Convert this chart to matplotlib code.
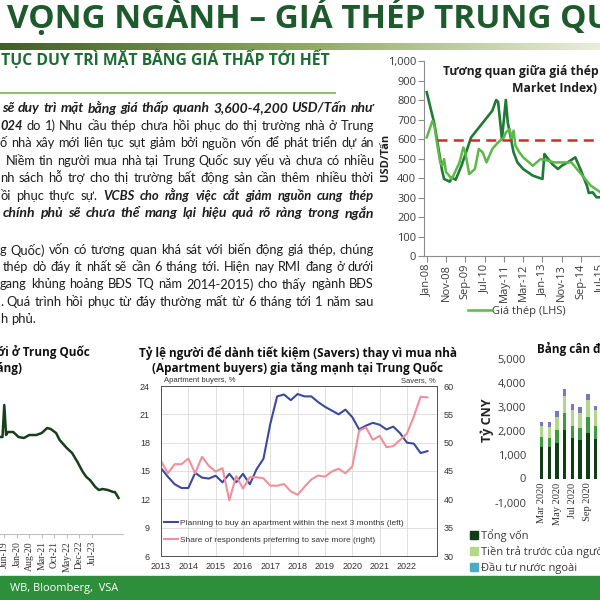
import matplotlib
matplotlib.use('Agg')
import matplotlib.pyplot as plt
from matplotlib.patches import Rectangle, Patch
from matplotlib.lines import Line2D
import numpy as np

# ---- data -------------------------------------------------------------
# top right: steel price vs RMI, x = months since Jan-08
rmi_month = [0, 4, 8, 9, 12, 13, 15, 18, 21, 23, 34, 36, 37, 39, 41, 42, 45, 47, 50, 55,
             60, 61, 63, 65, 68, 70, 73, 77, 80, 83, 84, 86, 88, 90]
rmi_value = [840, 677, 437, 395, 381, 403, 391, 463, 549, 608, 745, 800, 790, 600, 800, 686, 532, 480, 446, 412,
             395, 523, 497, 472, 446, 463, 480, 506, 437, 361, 323, 327, 301, 301]
steel_month = [0, 3, 4, 5, 7, 8, 9, 10, 11, 13, 17, 19, 20, 22, 25, 27, 29, 31, 34, 37, 40, 41,
               43, 44, 45, 46, 48, 50, 55, 59, 63, 66, 71, 75, 80, 85, 90]
steel_value = [608, 693, 668, 600, 480, 463, 497, 430, 420, 395, 480, 557, 532, 420, 446, 549, 532, 480, 549, 583, 608, 634,
               651, 600, 643, 566, 532, 506, 463, 497, 489, 480, 480, 480, 420, 361, 327]
steel_ref = 595
steel_ticks = [0, 10, 20, 30, 40, 50, 60, 70, 80, 90]
steel_ticklabels = ['Jan-08', 'Nov-08', 'Sep-09', 'Jul-10', 'May-11', 'Mar-12', 'Jan-13', 'Nov-13', 'Sep-14', 'Jul-15']

# centre: apartment buyers vs savers (quarterly)
sv_quarter = [2013 + 0.25 * i for i in range(40)]
buyers = [15.3, 14.4, 13.6, 13.2, 13.2, 14.8, 14.3, 14.2, 14.5, 13.8, 14.7, 13.8, 14.7, 13.6, 15.2, 16.3,
          20.0, 22.9, 23.1, 22.5, 23.15, 22.9, 22.9, 22.3, 21.8, 21.4, 21.0, 21.5, 20.7, 19.4, 19.8, 20.1,
          19.9, 19.4, 19.7, 19.0, 18.0, 17.9, 16.9, 17.1]
savers = [46.8, 44.6, 46.2, 46.2, 47.2, 44.6, 47.5, 45.9, 44.9, 45.5, 39.8, 44.1, 41.9, 43.9, 43.9, 43.7,
          42.4, 42.4, 42.7, 41.4, 40.8, 42.2, 43.5, 44.2, 44.0, 44.9, 45.4, 44.6, 45.8, 52.1, 52.7, 50.5,
          51.2, 49.2, 49.4, 50.5, 51.6, 54.6, 58.1, 58.0]
sv_years = list(range(2013, 2023))

# bottom left: new home prices, x = months since Jan-20
nh_month = [-9, -8, -7, -6, -5, -2, 1, 4, 7, 11, 14, 17, 19, 22, 24, 28, 31, 34, 37, 39, 41, 44, 46, 48, 51, 54, 55, 57]
nh_value = [83, 83, 115, 85, 88, 88, 83, 82, 85, 85, 87, 92, 91, 87, 80, 72, 67, 58, 48, 43, 40, 33, 30, 31, 30, 28, 28, 22]
nh_ticks = [-7, 0, 7, 14, 21, 28, 35, 42]
nh_ticklabels = ['Jun-19', 'Jan-20', 'Aug-20', 'Mar-21', 'Oct-21', 'May-22', 'Dec-22', 'Jul-23']

# bottom right: developer funding, bn CNY
bs_months = ['Mar 2020', 'Apr 2020', 'May 2020', 'Jun 2020', 'Jul 2020', 'Aug 2020', 'Sep 2020', 'Oct 2020']
bs_equity = [1300, 1300, 1490, 2020, 1670, 1600, 1880, 1630]
bs_loans = [445, 400, 530, 700, 520, 490, 670, 560]
bs_prepay = [445, 460, 560, 700, 670, 630, 730, 670]
bs_other = [180, 210, 250, 300, 240, 240, 250, 170]

# ---- helpers -----------------------------------------------------------
W = H = 600
fig = plt.figure(figsize=(6, 6), dpi=100)
fig.patch.set_facecolor('white')
renderer = fig.canvas.get_renderer()
SANS = ['Open Sans', 'DejaVu Sans']
BODY = ['Lato', 'DejaVu Sans']
ARIAL = ['Liberation Sans', 'DejaVu Sans']
SERIF = ['Liberation Serif', 'DejaVu Serif']


def fx(x):
    return x / W


def fy(y):
    return 1 - y / H


def box(x0, y0, x1, y1):
    return [x0 / W, 1 - y1 / H, (x1 - x0) / W, (y1 - y0) / H]


def text_w(s, **kw):
    t = fig.text(0, 0, s, **kw)
    w = t.get_window_extent(renderer).width
    t.remove()
    return w


def fit(s, width, **kw):
    return 10 * width / text_w(s, fontsize=10, **kw)


def word_kw(bold, size):
    return dict(fontsize=size, family=BODY,
                fontweight='bold' if bold else 'normal',
                style='italic' if bold else 'normal')


def put_line(parts, x0, x1, y, size, justify=True):
    # bold-italic lines may run a little larger; shrink any line that would overflow
    if all(b for _, b in parts):
        size = size * 1.07
    nat = sum(text_w(' '.join(s.split()), **word_kw(b, 10)) for s, b in parts) + 3 * (len(parts) - 1)
    size = min(size, 10 * (x1 - x0) / nat * 0.98)
    words = [(w, b) for s, b in parts for w in s.split()]
    widths = [text_w(w, **word_kw(b, size)) for w, b in words]
    space = text_w('a a', fontsize=size, family=BODY) - text_w('aa', fontsize=size, family=BODY)
    gap = (x1 - x0 - sum(widths)) / (len(words) - 1) if justify and len(words) > 1 else space
    x = x0
    for (w, b), wd in zip(words, widths):
        fig.text(fx(x), fy(y), w, va='center', color='#1e1e1e', **word_kw(b, size))
        x += wd + gap


# ---- header ------------------------------------------------------------
hsize = fit('VỌNG NGÀNH – GIÁ THÉP TRUNG Q', 578, fontweight='bold', family=SANS)
fig.text(fx(7), fy(28), 'VỌNG NGÀNH – GIÁ THÉP TRUNG QUỐC', fontsize=hsize, fontweight='bold',
         family=SANS, color='#1d5a2c', va='baseline')

band = fig.add_axes(box(0, 43, 600, 50))
band.imshow(np.linspace(0, 1, 256)[None, :], aspect='auto',
            cmap=matplotlib.colors.LinearSegmentedColormap.from_list('b', ['#40602a', '#8fa763', '#e9eedc']))
band.axis('off')

ssize = fit('TỤC DUY TRÌ MẶT BẰNG GIÁ THẤP TỚI HẾT', 329, fontweight='bold', family=SANS)
fig.text(fx(1), fy(65), 'TỤC DUY TRÌ MẶT BẰNG GIÁ THẤP TỚI HẾT', fontsize=ssize, fontweight='bold',
         family=SANS, color='#1f6b35', va='baseline')
fig.add_artist(Line2D([0, fx(335)], [fy(93.5)] * 2, color='#8cc26a', lw=1.5))

# ---- paragraphs --------------------------------------------------------
para1 = [
    [("sẽ duy trì mặt bằng giá thấp quanh 3,600-4,200 USD/Tấn như", True)],
    [("024", True), ("do 1) Nhu cầu thép chưa hồi phục do thị trường nhà ở Trung", False)],
    [("ố nhà xây mới liên tục sụt giảm bởi nguồn vốn để phát triển dự án", False)],
    [("Niềm tin người mua nhà tại Trung Quốc suy yếu và chưa có nhiều", False)],
    [("nh sách hỗ trợ cho thị trường bất động sản cần thêm nhiều thời", False)],
    [("ồi phục thực sự.", False), ("VCBS cho rằng việc cắt giảm nguồn cung thép", True)],
    [("chính phủ sẽ chưa thể mang lại hiệu quả rõ ràng trong ngắn", True)],
]
para1_x = [2, 0, 0, 6, 0, 0, 3]
para1_y = [108, 125.5, 143, 160.5, 178, 195.5, 213]
para2 = [
    [("g Quốc) vốn có tương quan khá sát với biến động giá thép, chúng", False)],
    [("thép dò đáy ít nhất sẽ cần 6 tháng tới. Hiện nay RMI đang ở dưới", False)],
    [("gang khủng hoảng BĐS TQ năm 2014-2015) cho thấy ngành BĐS", False)],
    [(". Quá trình hồi phục từ đáy thường mất từ 6 tháng tới 1 năm sau", False)],
    [("h phủ.", False)],
]
para2_x = [0, 3, 0, 0, 0]
para2_y = [250, 267.3, 284.5, 301.7, 319, 336]

right = 374
psize = 9.4
for parts, x0, y in zip(para1, para1_x, para1_y):
    put_line(parts, x0, right, y, psize)
for i, (parts, x0, y) in enumerate(zip(para2, para2_x, para2_y)):
    put_line(parts, x0, right, y, psize, justify=i < len(para2) - 1)

# ---- top right chart ---------------------------------------------------
ax1 = fig.add_axes(box(424, 61, 720, 256))
l_rmi, = ax1.plot(rmi_month, rmi_value, color='#1f7a36', lw=1.9)
l_steel, = ax1.plot(steel_month, steel_value, color='#5cb848', lw=1.8)
ax1.hlines(steel_ref, 5.5, 200, colors='#d42a2a', linestyles=(0, (4, 2.5)), lw=1.8)
ax1.set_xlim(-1.4, 152)
ax1.set_ylim(0, 1000)
ax1.set_yticks(range(0, 1001, 100))
ax1.set_yticklabels([f'{v:,}' for v in range(0, 1001, 100)])
ax1.set_xticks(steel_ticks)
ax1.set_xticklabels(steel_ticklabels, rotation=90)
for s in ['top', 'right']:
    ax1.spines[s].set_visible(False)
for s in ['left', 'bottom']:
    ax1.spines[s].set_color('#8c8c8c')
    ax1.spines[s].set_linewidth(0.8)
ax1.tick_params(colors='#8c8c8c', labelcolor='#3a3a3a', length=4, width=0.8, pad=1.5, labelsize=8)
for t in ax1.get_xticklabels() + ax1.get_yticklabels():
    t.set_family(SANS)
fig.text(fx(385), fy(157), 'USD/Tấn', rotation=90, fontsize=8, fontweight='bold', family=SANS,
         ha='center', va='center', color='#222222')
tsize = fit('Tương quan giữa giá thép', 155, fontweight='bold', family=SANS)
fig.text(fx(443), fy(71), 'Tương quan giữa giá thép và chỉ số RMI (Real Estate', fontsize=tsize,
         fontweight='bold', family=SANS, va='center', color='#1e1e1e')
fig.text(fx(512), fy(88), 'Market Index)', fontsize=tsize, fontweight='bold', family=SANS,
         va='center', color='#1e1e1e')
leg1 = ax1.legend([l_steel, l_rmi], ['Giá thép (LHS)', 'RMI (RHS)'], ncol=2, loc='upper left',
                  bbox_to_anchor=(fx(468), fy(306)), bbox_transform=fig.transFigure, frameon=False,
                  prop={'family': SANS, 'size': 8}, handlelength=2.1, handletextpad=0.1,
                  borderpad=0, borderaxespad=0, columnspacing=5)
for t in leg1.get_texts():
    t.set_color('#3a3a3a')

# ---- centre chart ------------------------------------------------------
ax2 = fig.add_axes(box(161, 386, 437, 556))
l_buy, = ax2.plot(sv_quarter, buyers, color='#3b4a9c', lw=1.5)
ax2b = ax2.twinx()
l_sav, = ax2b.plot(sv_quarter, savers, color='#f0909c', lw=1.5)
ax2.set_xlim(2013, 2023.1)
ax2.set_ylim(6, 24)
ax2b.set_ylim(30, 60)
ax2.set_yticks(range(6, 25, 3))
ax2b.set_yticks(range(30, 61, 5))
ax2.set_xticks(sv_years)
ax2.grid(True, color='#dadada', lw=0.6)
ax2.set_axisbelow(True)
for a in (ax2, ax2b):
    for s in a.spines.values():
        s.set_color('#555555')
        s.set_linewidth(0.7)
ax2.tick_params(axis='y', length=0, pad=8, labelsize=6.5, labelcolor='#333333')
ax2.tick_params(axis='x', length=0, pad=4, labelsize=6.5, labelcolor='#333333')
ax2b.tick_params(axis='y', length=0, pad=5, labelsize=6.5, labelcolor='#333333')
for t in ax2.get_xticklabels() + ax2.get_yticklabels() + ax2b.get_yticklabels():
    t.set_family(ARIAL)
fig.text(fx(164), fy(381), 'Apartment buyers, %', fontsize=5.5, family=ARIAL, color='#333333', va='center')
fig.text(fx(436), fy(381), 'Savers, %', fontsize=5.5, family=ARIAL, color='#333333', va='center', ha='right')
leg2 = ax2.legend([l_buy, l_sav], ['Planning to buy an apartment within the next 3 months (left)',
                                   'Share of respondents preferring to save more (right)'],
                  loc='upper left', bbox_to_anchor=(fx(164), fy(519)), bbox_transform=fig.transFigure,
                  frameon=False, prop={'family': ARIAL, 'size': 6}, handlelength=1.7, handletextpad=0.25,
                  borderpad=0, borderaxespad=0, labelspacing=1.1)
for t in leg2.get_texts():
    t.set_color('#333333')
c1 = 'Tỷ lệ người để dành tiết kiệm (Savers) thay vì mua nhà'
csize = fit(c1, 321, fontweight='bold', family=SANS)
fig.text(fx(298), fy(353), c1, fontsize=csize, fontweight='bold', family=SANS, ha='center', va='center',
         color='#111111')
fig.text(fx(297), fy(368.5), '(Apartment buyers) gia tăng mạnh tại Trung Quốc', fontsize=csize,
         fontweight='bold', family=SANS, ha='center', va='center', color='#111111')

# ---- bottom left chart -------------------------------------------------
ax3 = fig.add_axes(box(0, 380, 123, 534))
ax3.plot(nh_month, nh_value, color='#17401a', lw=1.8)
ax3.set_xlim(-9.4, 59.5)
ax3.set_ylim(-14, 140)
for s in ['top', 'right', 'left']:
    ax3.spines[s].set_visible(False)
ax3.spines['bottom'].set_color('#c0c0c0')
ax3.set_xticks(nh_ticks)
ax3.set_xticklabels(nh_ticklabels, rotation=90)
ax3.tick_params(axis='y', left=False, labelleft=False)
ax3.tick_params(axis='x', colors='#c0c0c0', labelcolor='#333333', length=3, pad=2, labelsize=7)
for t in ax3.get_xticklabels():
    t.set_family(SERIF)
fig.text(fx(90), fy(352), 'Giá nhà mới ở Trung Quốc', fontsize=8.5, fontweight='bold', family=SANS,
         ha='right', va='center', color='#111111')
fig.text(fx(22), fy(368), '(% thay đổi hàng tháng)', fontsize=8.5, fontweight='bold', family=SANS,
         ha='right', va='center', color='#111111')

# ---- bottom right chart ------------------------------------------------
ax4 = fig.add_axes(box(533, 358.5, 720, 502.5))
idx = np.arange(len(bs_months))
bottom = np.zeros(len(idx))
for vals, col in [(bs_equity, '#0f3d14'), (bs_loans, '#3c9b3c'), (bs_prepay, '#b4d88a'), (bs_other, '#7b77b8')]:
    ax4.bar(idx, vals, 0.45, bottom=bottom, color=col)
    bottom += np.array(vals)
ax4.set_ylim(-1000, 5000)
ax4.set_xlim(-1.13, 23.2)
ax4.set_yticks(range(-1000, 5001, 1000))
ax4.set_yticklabels([f'{v:,}' for v in range(-1000, 5001, 1000)])
for s in ax4.spines.values():
    s.set_visible(False)
ax4.spines['bottom'].set_position(('data', 0))
ax4.set_xticks(idx)
ax4.set_xticklabels([m if i % 2 == 0 else '' for i, m in enumerate(bs_months)], rotation=90)
ax4.tick_params(axis='y', length=0, pad=5, labelsize=8, labelcolor='#3a3a3a')
ax4.tick_params(axis='x', length=0, pad=3, labelsize=7.5, labelcolor='#333333')
for t in ax4.get_yticklabels():
    t.set_family(SANS)
for t in ax4.get_xticklabels():
    t.set_family(SERIF)
fig.text(fx(487), fy(420), 'Tỷ CNY', rotation=90, fontsize=9, fontweight='bold', family=SANS,
         ha='center', va='center', color='#222222')
fig.text(fx(537), fy(349), 'Bảng cân đối nguồn vốn của chủ đầu tư BĐS', fontsize=8.5, fontweight='bold',
         family=SANS, va='center', color='#111111')
leg4 = ax4.legend([Patch(color='#0f3d14'), Patch(color='#b4d88a'), Patch(color='#4bacc6')],
                  ['Tổng vốn', 'Tiền trả trước của người mua nhà', 'Đầu tư nước ngoài'],
                  loc='upper left', bbox_to_anchor=(fx(470), fy(529)), bbox_transform=fig.transFigure,
                  frameon=False, prop={'family': SANS, 'size': 8}, handlelength=0.7, handleheight=0.7,
                  handletextpad=0.3, borderpad=0, borderaxespad=0, labelspacing=0.35)
for t in leg4.get_texts():
    t.set_color('#3a3a3a')

# ---- footer band -------------------------------------------------------
fig.add_artist(Rectangle((0, 0), 1, fy(576), transform=fig.transFigure, color='#2e8f3b', zorder=5))
fsize = fit('WB, Bloomberg,  VSA', 108, family=SANS)
fig.text(fx(10), fy(589), 'WB, Bloomberg,  VSA', fontsize=fsize, family=SANS, color='white',
         ha='left', va='center', zorder=6)

fig.savefig('out.png', dpi=100)
